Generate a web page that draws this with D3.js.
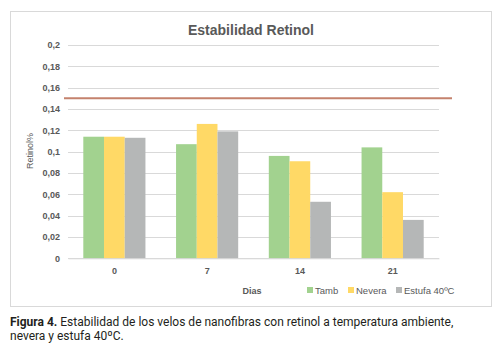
<!DOCTYPE html>
<html><head><meta charset="utf-8">
<script src="https://cdn.jsdelivr.net/npm/d3@7"></script>
<style>body{margin:0;background:#fff;}svg{display:block;}</style>
</head><body>
<script>
const categories = ["0", "7", "14", "21"];
const seriesNames = ["Tamb", "Nevera", "Estufa 40ºC"];
const tamb = [0.114, 0.107, 0.096, 0.104];
const nevera = [0.114, 0.126, 0.091, 0.062];
const estufa = [0.113, 0.119, 0.053, 0.036];
const yTicks = [0, 0.02, 0.04, 0.06, 0.08, 0.1, 0.12, 0.14, 0.16, 0.18, 0.2];
const refValue = 0.15;
const colors = ["#a2d28f", "#ffd966", "#b5b7b7"];

const W = 500, H = 355;
const svg = d3.select("body").append("svg").attr("width", W).attr("height", H);
const font = "'Liberation Sans', Arial, sans-serif";

// frame
svg.append("rect").attr("x", 10.5).attr("y", 11.5).attr("width", 481).attr("height", 295)
  .attr("fill", "#fff").attr("stroke", "#d9d9d9").attr("stroke-width", 1);

const x0 = d3.scaleBand().domain(categories).range([68, 439]).paddingInner(0.33).paddingOuter(0.165);
const x1 = d3.scaleBand().domain(seriesNames).range([0, x0.bandwidth()]);
const y = d3.scaleLinear().domain([0, 0.2]).range([258.3, 45]);

// gridlines
svg.append("g").selectAll("line").data(yTicks).join("line")
  .attr("x1", 68).attr("x2", 439)
  .attr("y1", d => Math.round(y(d)) + 0.5).attr("y2", d => Math.round(y(d)) + 0.5)
  .attr("stroke", "#d9d9d9").attr("stroke-width", 1);

// y axis
const fmt = d => String(+d.toFixed(2)).replace(".", ",");
const yAxis = d3.axisLeft(y).tickValues(yTicks).tickFormat(fmt).tickSize(0).tickPadding(8);
const ya = svg.append("g").attr("transform", "translate(68,0)").call(yAxis);
ya.select(".domain").remove();
ya.selectAll("text").attr("font-family", font).attr("font-size", 9).attr("font-weight", "bold").attr("fill", "#595959");

// bars
const data = [tamb, nevera, estufa];
categories.forEach((c, i) => {
  const g = svg.append("g").attr("transform", `translate(${x0(c)},0)`);
  seriesNames.forEach((s, j) => {
    g.append("rect").attr("x", x1(s)).attr("width", x1.bandwidth())
      .attr("y", y(data[j][i])).attr("height", y(0) - y(data[j][i]))
      .attr("fill", colors[j]);
  });
});

// x axis
const xAxis = d3.axisBottom(x0).tickSize(0).tickPadding(9);
const xa = svg.append("g").attr("transform", `translate(0,${y(0)})`).call(xAxis);
xa.select(".domain").attr("stroke", "#d9d9d9");
xa.selectAll("text").attr("font-family", font).attr("font-size", 9).attr("font-weight", "bold").attr("fill", "#595959");

// reference line
svg.append("line").attr("x1", 64).attr("x2", 452)
  .attr("y1", y(refValue)).attr("y2", y(refValue))
  .attr("stroke", "#c4826d").attr("stroke-width", 2);

// title
svg.append("text").attr("x", 251).attr("y", 35).attr("text-anchor", "middle")
  .attr("font-family", font).attr("font-size", 14).attr("font-weight", "bold").attr("fill", "#595959")
  .text("Estabilidad Retinol");

// y axis title
svg.append("text").attr("transform", "translate(33,151) rotate(-90)").attr("text-anchor", "middle")
  .attr("font-family", font).attr("font-size", 9).attr("fill", "#595959").text("Retinol%");

// x axis title
svg.append("text").attr("x", 252).attr("y", 294).attr("text-anchor", "middle")
  .attr("font-family", font).attr("font-size", 9).attr("font-weight", "bold").attr("fill", "#595959").text("Dias");

// legend
const legX = [307, 348, 396];
seriesNames.forEach((s, j) => {
  svg.append("rect").attr("x", legX[j]).attr("y", 287).attr("width", 6).attr("height", 6).attr("fill", colors[j]);
  svg.append("text").attr("x", legX[j] + 8).attr("y", 294)
    .attr("font-family", font).attr("font-size", 9.5).attr("fill", "#595959").text(s);
});

// caption
const cap = svg.append("text").attr("x", 10).attr("y", 326)
  .attr("font-family", "Roboto, sans-serif").attr("font-size", 12).attr("fill", "#231f20");
cap.append("tspan").attr("font-weight", "bold").text("Figura 4.");
cap.append("tspan").text(" Estabilidad de los velos de nanofibras con retinol a temperatura ambiente,");
svg.append("text").attr("x", 10).attr("y", 340)
  .attr("font-family", "Roboto, sans-serif").attr("font-size", 12).attr("fill", "#231f20")
  .text("nevera y estufa 40ºC.");
</script>
</body></html>
